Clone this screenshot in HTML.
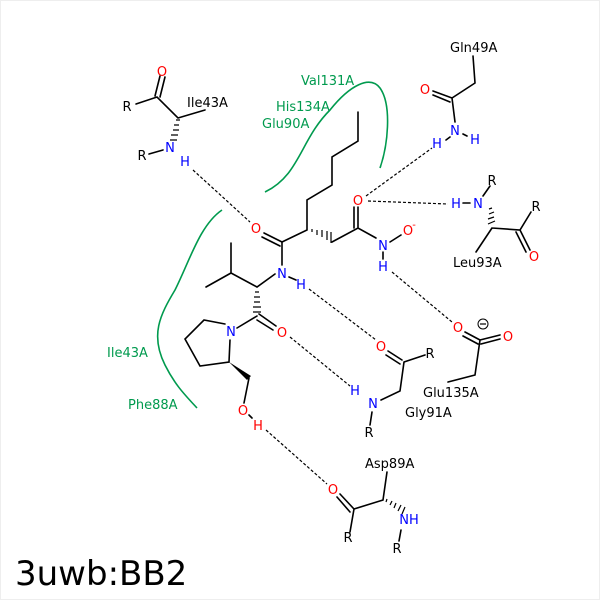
<!DOCTYPE html>
<html><head><style>
html,body{margin:0;padding:0;background:#fff}
svg{display:block}
text{font-family:"DejaVu Sans","Liberation Sans",sans-serif;font-size:13px}
.b{fill:#000}.r{fill:#f00}.n{fill:#00f}.g{fill:#009a4e}
</style></head><body>
<svg width="600" height="600" viewBox="0 0 600 600" xmlns="http://www.w3.org/2000/svg">
<rect x="0.5" y="0.5" width="599" height="599" fill="#fff" stroke="#eee"/>
<g fill="none" stroke="#009a4e" stroke-width="1.6">
<path d="M265,192 C300,175 300,140 330,110 C350,85 370,75 380,88 C392,105 388,145 380,168"/>
<path d="M222,210 C200,225 190,260 175,290 C160,315 150,335 165,365 C175,385 185,395 197,408"/>
</g>
<g stroke="#000" stroke-width="1.6" fill="none" stroke-linecap="round">
<path d="M136,104 L157,97 L178,118 L205,110"/>
<path d="M160,76 L155,96 M165,77 L160,97"/>
<path d="M149,154 L163,150"/>
<path d="M264,233 L282,242 M262,237 L280,246"/>
<path d="M282,242 L307,230 L307,200 L332,185 L332,157 L358,141 L358,112"/>
<path d="M282,242 L282,265 M289,277 L296,280"/>
<path d="M275,274 L257,287 L231,273 L231,243 M231,273 L206,287"/>
<path d="M332,242 L358,228 L376,238 M358,228 L358,207 M354,228 L354,207"/>
<path d="M390,242 L401,235 M383,252 L383,259"/>
<path d="M257,316 L237,328 M259,314 L276,326 M257,320 L273,330"/>
<path d="M225,324 L204,320 L185,339 L200,366 L229,362 L230,340"/>
<path d="M249,378 L244,403 M249,415 L252,418"/>
<path d="M388,351 L402,360 M386,355 L400,364 M404,362 L425,355 M404,362 L400,391 L381,400 M372,412 L370,425"/>
<path d="M465,332 L480,340 M463,336 L478,344 M480,340 L500,335 M481,344 L500,339 M480,340 L475,375 L448,382"/>
<path d="M473,56 L475,83 L452,98 L433,91 M450,102 L433,95 M452,98 L455,122 M446,140 L450,137 M463,134 L467,136"/>
<path d="M463,203 L470,203 M483,196 L490,186 M492,228 L520,230 L531,212 M520,230 L530,250 M516,232 L526,252 M492,228 L476,252"/>
<path d="M387,472 L383,500 L354,509 L350,532 M354,509 L340,494 M350,512 L337,497 M401,530 L399,541"/>
</g>
<g stroke="#000" stroke-width="1.2">
<path d="M176,120 l4,0 M174,125 l5,0 M173,130 l6,0 M171,135 l7,0 M170,140 l7,0"/>
<path d="M312,232 l0,-3 M317,235 l0,-5 M322,237 l0,-7 M327,240 l0,-9 M331,243 l0,-11"/>
<path d="M255,292 l4,0 M254,297 l6,0 M254,302 l6,0 M253,307 l8,0 M253,312 l8,0"/>
<path d="M489,209 l3,-1 M489,214 l5,-2 M488,219 l6,-2 M488,224 l7,-3"/>
<path d="M386,502 l1,-3 M390,505 l2,-4 M394,508 l2,-5 M398,511 l3,-6 M402,514 l3,-7"/>
</g>
<polygon points="229,362 251,376 247,380" fill="#000"/>
<g stroke="#000" stroke-width="1.2" stroke-dasharray="3,2" fill="none">
<path d="M193,170 L250,222"/>
<path d="M366,196 L432,148"/>
<path d="M368,201 L448,204"/>
<path d="M392,272 L452,322"/>
<path d="M309,289 L376,340"/>
<path d="M290,337 L350,386"/>
<path d="M266,430 L327,484"/>
</g>
<g text-anchor="middle">
<text x="162" y="76" class="r">O</text>
<text x="127" y="111" class="b">R</text>
<text x="170" y="152" class="n">N</text>
<text x="142" y="160" class="b">R</text>
<text x="185" y="166" class="n">H</text>
<text x="256" y="233" class="r">O</text>
<text x="282" y="278" class="n">N</text>
<text x="301" y="289" class="n">H</text>
<text x="358" y="205" class="r">O</text>
<text x="383" y="250" class="n">N</text>
<text x="408" y="235" class="r">O</text>
<text x="414" y="228" class="r" style="font-size:10px">-</text>
<text x="383" y="271" class="n">H</text>
<text x="282" y="337" class="r">O</text>
<text x="231" y="336" class="n">N</text>
<text x="243" y="415" class="r">O</text>
<text x="258" y="430" class="r">H</text>
<text x="381" y="351" class="r">O</text>
<text x="430" y="358" class="b">R</text>
<text x="355" y="395" class="n">H</text>
<text x="373" y="408" class="n">N</text>
<text x="369" y="437" class="b">R</text>
<text x="458" y="332" class="r">O</text>
<text x="508" y="341" class="r">O</text>
<text x="425" y="94" class="r">O</text>
<text x="455" y="135" class="n">N</text>
<text x="437" y="148" class="n">H</text>
<text x="475" y="144" class="n">H</text>
<text x="456" y="208" class="n">H</text>
<text x="478" y="208" class="n">N</text>
<text x="492" y="185" class="b">R</text>
<text x="536" y="211" class="b">R</text>
<text x="534" y="261" class="r">O</text>
<text x="333" y="494" class="r">O</text>
<text x="348" y="542" class="b">R</text>
<text x="409" y="524" class="n">NH</text>
<text x="397" y="553" class="b">R</text>
</g>
<circle cx="483" cy="324" r="5" fill="none" stroke="#000" stroke-width="1"/>
<path d="M480,324 h6" stroke="#000" stroke-width="1.2"/>
<g style="font-size:12px">
<text x="187" y="107" class="b">Ile43A</text>
<text x="450" y="52" class="b">Gln49A</text>
<text x="453" y="267" class="b">Leu93A</text>
<text x="423" y="397" class="b">Glu135A</text>
<text x="405" y="417" class="b">Gly91A</text>
<text x="365" y="468" class="b">Asp89A</text>
<text x="301" y="85" class="g">Val131A</text>
<text x="276" y="111" class="g">His134A</text>
<text x="262" y="128" class="g">Glu90A</text>
<text x="107" y="357" class="g">Ile43A</text>
<text x="128" y="409" class="g">Phe88A</text>
</g>
<text x="15" y="585" style="font-size:34px" class="b">3uwb:BB2</text>
</svg>
</body></html>
